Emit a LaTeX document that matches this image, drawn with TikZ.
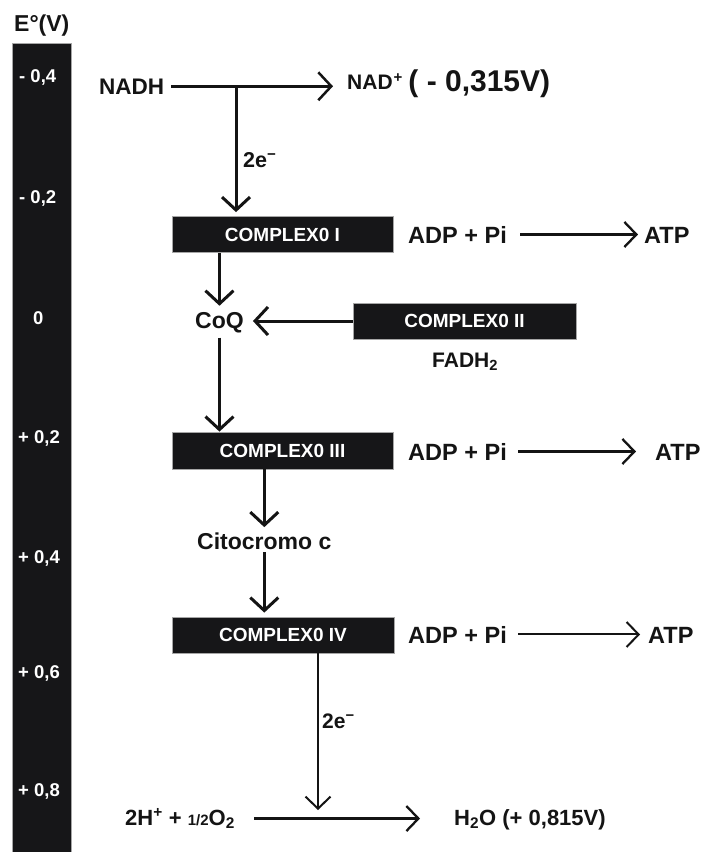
\documentclass[tikz,border=0pt]{standalone}
\usepackage{fontspec}
\setmainfont{Liberation Sans}
\usetikzlibrary{arrows.meta}
\definecolor{ink}{RGB}{20,20,20}
\definecolor{barfill}{RGB}{22,22,24}
\newcommand\fsz[1]{\fontsize{#1}{#1}\selectfont\bfseries}
\begin{document}
\begin{tikzpicture}[x=1pt,y=-1pt,
  txt/.style={anchor=base west, inner sep=3pt, text=ink},
  tick/.style={anchor=base west, inner sep=0pt, text=white, font=\fsz{18.5}},
  cbox/.style={fill=barfill, draw=gray!70, line width=0.8pt, text=white, font=\fsz{19}, inner sep=0pt, minimum height=36pt},
  arr/.style={draw=ink, line width=3pt, -{Straight Barb[length=13pt,width=28pt]}},
  arrrow/.style={draw=ink, line width=2.3pt, -{Straight Barb[length=12pt,width=25pt]}},
  arrthin/.style={draw=ink, line width=2pt, -{Straight Barb[length=12pt,width=25pt]}},
]
\useasboundingbox (0,0) rectangle (701,852);
\fill[white] (0,0) rectangle (701,852);

% potential scale
\node[fill=barfill, draw=gray!70, line width=0.8pt, minimum width=59pt, minimum height=815pt, inner sep=0pt, anchor=north west] (bar) at (12,43) {};
\node[txt, font=\fsz{23}] (eo) at (11,31) {E°(V)};
\node[tick] (t1) at (19,82) {- 0,4};
\node[tick] (t2) at (19,203) {- 0,2};
\node[tick] (t3) at (33,324) {0};
\node[tick] (t4) at (18,443) {+ 0,2};
\node[tick] (t5) at (18,563) {+ 0,4};
\node[tick] (t6) at (18,678) {+ 0,6};
\node[tick] (t7) at (18,796) {+ 0,8};

% complexes
\node[cbox, minimum width=221pt] (c1) at (282.5,234.5) {COMPLEX0 I};
\node[cbox, minimum width=223pt] (c2) at (464.5,321) {COMPLEX0 II};
\node[cbox, minimum width=221pt, minimum height=37pt] (c3) at (282.5,450.5) {COMPLEX0 III};
\node[cbox, minimum width=222pt] (c4) at (283,635) {COMPLEX0 IV};

% NADH row
\node[txt, font=\fsz{22.5}] (nadh) at (96,94) {NADH};
\node[txt] (nad) at (344,91) {\raisebox{1.5pt}{\fsz{21}NAD\kern1pt\raisebox{7pt}{\fsz{15}+}}\hspace{6pt}\fsz{30}( - 0,315V)};
\coordinate (j1) at (236,0);
\draw[arr, line width=2.5pt, shorten <=4pt, shorten >=11pt] (nadh.east) -- (nadh.east -| nad.west);
\draw[arr, shorten >=4pt] (nadh.east -| j1) -- (c1.north -| j1);
\node[txt, font=\fsz{21.5}] (e1) at (240,167) {2e\textsuperscript{−}};

% ADP rows
\node[txt, font=\fsz{23.5}] (adp1) at (405,243) {ADP + Pi};
\node[txt, font=\fsz{23.5}] (atp1) at (641,243) {ATP};
\draw[arrrow, shorten <=10pt, shorten >=3pt] (adp1.east) -- (adp1.east -| atp1.west);

\node[txt, font=\fsz{23.5}] (adp3) at (405,460) {ADP + Pi};
\node[txt, font=\fsz{23.5}] (atp3) at (652,460) {ATP};
\draw[arrrow, shorten <=8pt, shorten >=16pt] (adp3.east) -- (adp3.east -| atp3.west);

\node[txt, font=\fsz{23.5}] (adp4) at (405,643) {ADP + Pi};
\node[txt, font=\fsz{23.5}] (atp4) at (645,643) {ATP};
\draw[arrthin, shorten <=8pt, shorten >=5pt] (adp4.east) -- (adp4.east -| atp4.west);

% CoQ
\node[txt, font=\fsz{23}] (coq) at (192,328) {CoQ};
\node[txt, font=\fsz{21}] (fadh) at (429,367) {FADH\textsubscript{2}};
\draw[arr, shorten >=4pt] (c1.south -| coq.north) -- ([yshift=-1pt]coq.north);
\draw[arr, shorten >=6pt] (c2.west) -- (c2.west -| coq.east);
\draw[arr, shorten <=2pt] (coq.south) -- (coq.south |- c3.north);

% Citocromo
\node[txt, font=\fsz{23}] (cit) at (194,549) {Citocromo c};
\draw[arr, shorten >=2pt] (c3.south -| cit.north) -- (cit.north);
\draw[arr, shorten >=4pt] (cit.south) -- (cit.south |- c4.north);

% bottom
\node[txt, font=\fsz{22}] (h) at (122,825) {2H\textsuperscript{+} + {\fsz{15}1/2}O\textsubscript{2}};
\node[txt, font=\fsz{22}] (h2o) at (451,825) {H\textsubscript{2}O (+ 0,815V)};
\coordinate (j4) at (318,819);
\draw[arrthin, shorten >=9pt] (c4.south -| j4) -- (j4);
\draw[arrrow, line width=2.3pt, shorten <=16pt, shorten >=31pt] (h.east) -- (h.east -| h2o.west);
\node[txt, font=\fsz{21}] (e2) at (319,728) {2e\textsuperscript{−}};
\end{tikzpicture}
\end{document}
